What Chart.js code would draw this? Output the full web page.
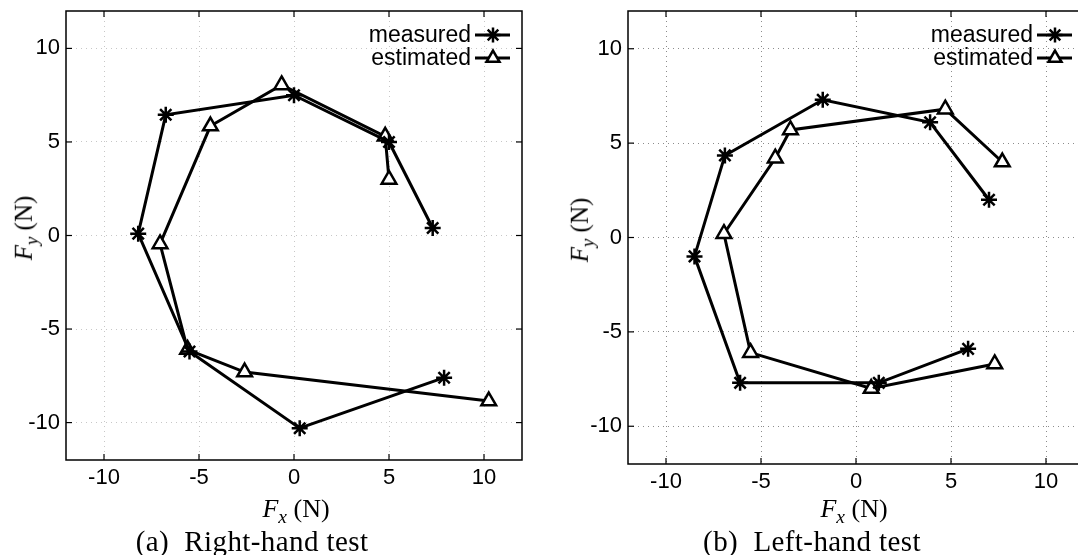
<!DOCTYPE html>
<html>
<head>
<meta charset="utf-8">
<script src="https://cdn.jsdelivr.net/npm/chart.js@4.4.1/dist/chart.umd.min.js"></script>
<style>
  body { margin: 0; width: 1078px; height: 555px; overflow: hidden; position: relative; background: #fff; }
  canvas { position: absolute; top: 0; }
  .serif { position: absolute; font-family: "Liberation Serif", "DejaVu Serif", serif; color: #000; white-space: nowrap; line-height: 1; }
  .serif sub { font-size: 0.75em; vertical-align: -0.3em; }
  .xtitle { font-size: 26px; transform: translateX(-50%); }
  .caption { font-size: 29px; letter-spacing: 0.4px; transform: translateX(-50%); }
  .ytitle { font-size: 25px; transform: translate(-50%, -50%) rotate(-90deg); }
</style>
</head>
<body>
<canvas id="chartA" width="540" height="555" style="left:0"></canvas>
<canvas id="chartB" width="560" height="555" style="left:540px"></canvas>

<div class="serif ytitle" style="left:26px; top:228px"><i>F</i><sub><i>y</i></sub> (N)</div>
<div class="serif ytitle" style="left:582px; top:230px"><i>F</i><sub><i>y</i></sub> (N)</div>
<div class="serif xtitle" style="left:296px; top:496px"><i>F</i><sub><i>x</i></sub> (N)</div>
<div class="serif xtitle" style="left:854px; top:496px"><i>F</i><sub><i>x</i></sub> (N)</div>
<div class="serif caption" style="left:252px; top:527px">(a)&nbsp; Right-hand test</div>
<div class="serif caption" style="left:812px; top:527px">(b)&nbsp; Left-hand test</div>

<script>
// tick values shared by both axes of both panels
const tickValues = [-10, -5, 0, 5, 10];
const seriesNames = ['measured', 'estimated'];

// (a) right-hand test
const rightHandMeasuredFx = [7.3, 5.0, 0.0, -6.75, -8.2, -5.5, 0.3, 7.9];
const rightHandMeasuredFy = [0.4, 5.0, 7.5, 6.45, 0.1, -6.2, -10.3, -7.6];
const rightHandEstimatedFx = [5.0, 4.8, -0.65, -4.4, -7.05, -5.6, -2.6, 10.25];
const rightHandEstimatedFy = [3.0, 5.3, 8.05, 5.85, -0.45, -6.1, -7.3, -8.85];

// (b) left-hand test
const leftHandMeasuredFx = [7.0, 3.9, -1.75, -6.9, -8.5, -6.1, 1.2, 5.9];
const leftHandMeasuredFy = [2.0, 6.1, 7.3, 4.35, -1.0, -7.7, -7.7, -5.9];
const leftHandEstimatedFx = [7.7, 4.7, -3.45, -4.25, -6.95, -5.55, 0.8, 7.3];
const leftHandEstimatedFy = [4.0, 6.8, 5.7, 4.2, 0.2, -6.1, -8.0, -6.7];

const SANS = '"Liberation Sans", Arial, sans-serif';
Chart.defaults.font.family = SANS;
Chart.defaults.color = '#000';

function points(xs, ys) {
    return xs.map((x, i) => ({ x: x, y: ys[i] }));
}

function line(ctx, x1, y1, x2, y2) {
    ctx.beginPath();
    ctx.moveTo(x1, y1);
    ctx.lineTo(x2, y2);
    ctx.stroke();
}

// box, inward tick marks and the in-plot legend
const framePlugin = {
    id: 'frame',
    afterDatasetsDraw(chart) {
        const ctx = chart.ctx;
        const a = chart.chartArea;
        const xs = chart.scales.x, ys = chart.scales.y;
        ctx.save();
        ctx.strokeStyle = '#000';
        ctx.lineWidth = 1.5;
        ctx.strokeRect(a.left, a.top, a.right - a.left, a.bottom - a.top);
        ctx.lineWidth = 1.2;
        xs.ticks.forEach(t => {
            const px = xs.getPixelForValue(t.value);
            line(ctx, px, a.bottom, px, a.bottom - 6);
            line(ctx, px, a.top, px, a.top + 6);
        });
        ys.ticks.forEach(t => {
            const py = ys.getPixelForValue(t.value);
            line(ctx, a.left, py, a.left + 6, py);
            line(ctx, a.right, py, a.right - 6, py);
        });

        // legend: text on the left, line sample with marker on the right
        ctx.font = '23px ' + SANS;
        ctx.textAlign = 'right';
        ctx.textBaseline = 'middle';
        chart.data.datasets.forEach((ds, i) => {
            const yy = a.top + 24 + i * 23;
            ctx.fillStyle = '#000';
            ctx.fillText(ds.label, a.right - 51, yy + 1);
            ctx.lineWidth = 2.8;
            ctx.strokeStyle = '#000';
            line(ctx, a.right - 47, yy, a.right - 12, yy);
            ctx.fillStyle = ds.pointBackgroundColor;
            ctx.lineWidth = 2.5;
            Chart.helpers.drawPoint(ctx, { pointStyle: ds.pointStyle, radius: 7.5, borderWidth: 2.5, rotation: 0 }, a.right - 29, yy);
        });
        ctx.restore();
    }
};

function makeChart(id, measured, estimated, yAxisWidth, xAxisHeight, padding, gridColor) {
    const axis = (isX) => ({
        type: 'linear',
        min: -12,
        max: 12,
        afterBuildTicks: s => { s.ticks = tickValues.map(v => ({ value: v })); },
        afterFit: s => {
            if (isX) { s.height = xAxisHeight; s.paddingLeft = 0; s.paddingRight = 0; }
            else { s.width = yAxisWidth; s.paddingTop = 0; s.paddingBottom = 0; }
        },
        grid: { color: gridColor, lineWidth: 1, drawTicks: false },
        border: { display: false, dash: [1, 4] },
        ticks: { font: { size: 22 }, color: '#000', padding: isX ? 5 : 6 }
    });
    return new Chart(document.getElementById(id), {
        type: 'scatter',
        data: {
            datasets: [
                {
                    label: seriesNames[0],
                    data: measured,
                    showLine: true,
                    borderColor: '#000',
                    borderWidth: 3,
                    pointStyle: 'star',
                    pointRadius: 8,
                    pointBorderWidth: 2.5,
                    pointBorderColor: '#000',
                    pointBackgroundColor: '#000'
                },
                {
                    label: seriesNames[1],
                    data: estimated,
                    showLine: true,
                    borderColor: '#000',
                    borderWidth: 3,
                    pointStyle: 'triangle',
                    pointRadius: 8.5,
                    pointBorderWidth: 2.5,
                    pointBorderColor: '#000',
                    pointBackgroundColor: '#fff'
                }
            ]
        },
        options: {
            responsive: false,
            animation: false,
            layout: { padding: padding },
            plugins: { legend: { display: false }, tooltip: { enabled: false } },
            scales: { x: axis(true), y: axis(false) }
        },
        plugins: [framePlugin]
    });
}

makeChart('chartA',
    points(rightHandMeasuredFx, rightHandMeasuredFy),
    points(rightHandEstimatedFx, rightHandEstimatedFy),
    66, 95, { top: 8, right: 18, left: 0, bottom: 0 }, 'rgba(0,0,0,0.22)');

makeChart('chartB',
    points(leftHandMeasuredFx, leftHandMeasuredFy),
    points(leftHandEstimatedFx, leftHandEstimatedFy),
    88, 91, { top: 10, right: 16, left: 0, bottom: 0 }, 'rgba(0,0,0,0.45)');
</script>
</body>
</html>
